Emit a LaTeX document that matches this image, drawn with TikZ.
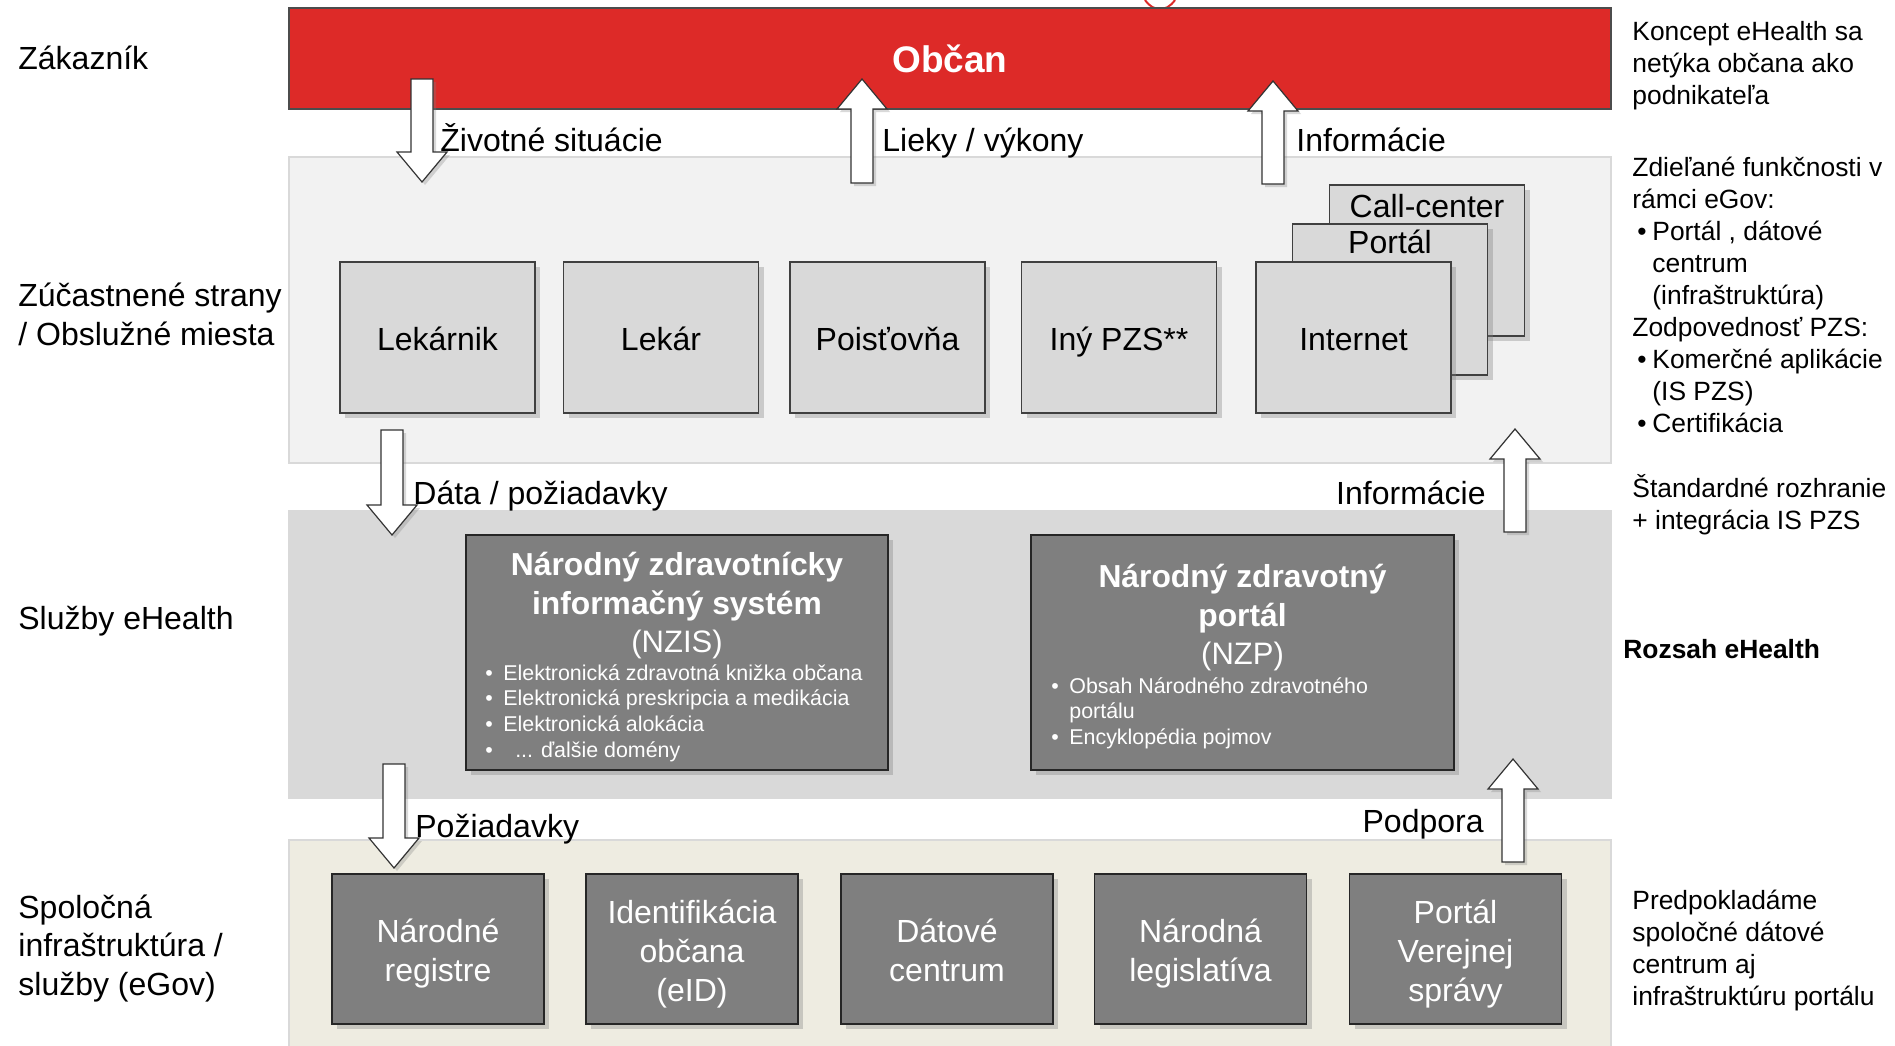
\documentclass[tikz,border=0pt]{standalone}
\usepackage{fontspec}
\setmainfont{Liberation Sans}
\usetikzlibrary{calc,shadows,positioning}

\definecolor{obcanred}{RGB}{221,42,40}
\definecolor{layerone}{RGB}{242,242,242}
\definecolor{layertwo}{RGB}{217,217,217}
\definecolor{layerthree}{RGB}{238,236,225}
\definecolor{boxlight}{RGB}{217,217,217}
\definecolor{boxdark}{RGB}{127,127,127}

\newcommand{\notebul}{\hspace*{2.5pt}\makebox[7.5pt][l]{\textbullet}}
\newcommand{\noteind}{\hspace*{10pt}}
\newcommand{\boxbul}{\makebox[9pt][l]{\textbullet}}
\newcommand{\topstrut}{\rule{0pt}{17pt}}
\newcommand{\botstrut}{\rule[-3.7pt]{0pt}{0pt}}
\newcommand{\blockarrow}[2]{%
  \draw[bigarrow] let \p1=(#1), \p2=(#2), \p3=($(#2)!15pt!(#1)$) in
    (\x1-5.5pt,\y1) -- (\x1-5.5pt,\y3) -- (\x1-12.5pt,\y3) -- (\p2)
    -- (\x1+12.5pt,\y3) -- (\x1+5.5pt,\y3) -- (\x1+5.5pt,\y1) -- cycle;}

\tikzset{
  layerbg/.style={fill=#1, draw=black!15, line width=1pt},
  sidetext/.style={anchor=west, align=left, inner sep=0pt, font=\fontsize{16}{19.4}\selectfont},
  notetext/.style={anchor=west, align=left, inner sep=0pt, font=\fontsize{13.2}{16}\selectfont},
  flowtext/.style={inner sep=0pt, font=\fontsize{16}{19}\selectfont},
  boxtext/.style={flowtext, text height=13pt, text depth=0pt},
  boxshadow/.style={drop shadow={shadow xshift=2.5pt, shadow yshift=-2.5pt, opacity=0.35}},
  lightbox/.style={draw=black!75, fill=boxlight, line width=0.8pt, boxshadow,
    minimum width=97.5pt, minimum height=75.5pt, inner sep=0pt, font=\fontsize{16}{19}\selectfont,
    text height=13pt, text depth=0pt},
  darkbox/.style={draw=black!85, fill=boxdark, line width=0.8pt, boxshadow, inner sep=0pt},
  infrabox/.style={darkbox, minimum width=106pt, minimum height=75pt, text=white, align=center,
    font=\fontsize{16}{19.4}\selectfont},
  bigarrow/.style={draw=black!80, fill=white, line width=0.6pt,
    drop shadow={shadow xshift=1.5pt, shadow yshift=-1.5pt, opacity=0.3}}
}

\begin{document}
\begin{tikzpicture}[x=0.5pt,y=-0.5pt]
  \useasboundingbox (0,0) rectangle (1895,1045);

  \draw[layerbg=layerone] (289,157) rectangle (1611,463);
  \draw[layerbg=layertwo] (289,511) rectangle (1611,798);
  \draw[layerbg=layerthree] (289,840) rectangle (1611,1050);
  \draw[obcanred, line width=1pt] (1145,0) .. controls (1150,7) and (1155,9) .. (1160,9)
    .. controls (1165,9) and (1170,7) .. (1175,0);

  \node[draw=black!70, fill=obcanred, line width=0.8pt, minimum width=661pt, minimum height=50.5pt,
    text=white, font=\bfseries\fontsize{18.5}{22}\selectfont] (obcan) at (950,58.5) {Občan};

  \node[sidetext] (zakaznik) at (18,58) {Zákazník};
  \node[sidetext] (strany) at (18,314.5) {Zúčastnené strany\\/ Obslužné miesta};
  \node[sidetext] (sluzby) at (18,621) {Služby eHealth};
  \node[sidetext] (infra) at (18,948.5) {Spoločná\\infraštruktúra /\\služby (eGov)};

  \node[lightbox] (lekarnik) at (437.5,337.5) {Lekárnik};
  \node[lightbox] (lekar) at (661,337.5) {Lekár};
  \node[lightbox] (poistovna) at (887.5,337.5) {Poisťovňa};
  \node[lightbox] (inypzs) at (1119,337.5) {Iný PZS**};
  \node[lightbox] (callcenter) at (1427,260.5) {};
  \node[boxtext, below=3.2pt of callcenter.north] (callcentertext) {Call-center};
  \node[lightbox] (portal) at (1390,299.5) {};
  \node[boxtext, below=1.9pt of portal.north] (portaltext) {Portál};
  \node[lightbox] (internet) at (1353.5,337.5) {Internet};

  \node[darkbox, minimum width=211pt, minimum height=117.5pt] (nzis) at (677,652.5) {};
  \node[anchor=north, align=center, inner sep=0pt, text=white, font=\bfseries\fontsize{15.9}{19.4}\selectfont]
    (nzistitle) at (677,551.5) {Národný zdravotnícky\\informačný systém\\{\mdseries\fontsize{15.5}{18.5}\selectfont (NZIS)}};
  \node[anchor=north west, align=left, inner sep=0pt, text=white, font=\fontsize{10.7}{12.9}\selectfont]
    (nzislist) at (485,664) {\boxbul Elektronická zdravotná knižka občana\\\boxbul Elektronická preskripcia a medikácia\\\boxbul Elektronická alokácia\\\boxbul\ \ ... ďalšie domény};

  \node[darkbox, minimum width=211.5pt, minimum height=117.5pt] (nzp) at (1242.5,652.5) {};
  \node[anchor=north, align=center, inner sep=0pt, text=white, font=\bfseries\fontsize{15.9}{19.4}\selectfont]
    (nzptitle) at (1242.5,563.5) {Národný zdravotný\\portál\\{\mdseries\fontsize{15.5}{18.5}\selectfont (NZP)}};
  \node[anchor=north west, align=left, inner sep=0pt, text=white, font=\fontsize{10.7}{12.9}\selectfont]
    (nzplist) at (1051,677) {\boxbul Obsah Národného zdravotného\\\hspace*{9pt}portálu\\\boxbul Encyklopédia pojmov};

  \node[infrabox] (registre) at (438,949) {\topstrut Národné\\registre\botstrut};
  \node[infrabox] (eid) at (692,949) {\topstrut Identifikácia\\občana\\(eID)\botstrut};
  \node[infrabox] (datacentrum) at (947,949) {\topstrut Dátové\\centrum\botstrut};
  \node[infrabox] (legislativa) at (1200.5,949) {\topstrut Národná\\legislatíva\botstrut};
  \node[infrabox] (portalvs) at (1455.5,949) {\topstrut Portál\\Verejnej\\správy\botstrut};

  \coordinate (situacieTail) at (422,79);
  \coordinate (situacieTip) at (422,182);
  \coordinate (liekyTail) at (862,183);
  \coordinate (liekyTip) at (862,79);
  \coordinate (infoTail) at (1273,184);
  \coordinate (infoTip) at (1273,81);
  \coordinate (dataTail) at (392,430);
  \coordinate (dataTip) at (392,535);
  \coordinate (info2Tail) at (1515,532);
  \coordinate (info2Tip) at (1515,429);
  \coordinate (poziadavkyTail) at (394,764);
  \coordinate (poziadavkyTip) at (394,868);
  \coordinate (podporaTail) at (1513,862);
  \coordinate (podporaTip) at (1513,759);

  \blockarrow{situacieTail}{situacieTip}
  \blockarrow{liekyTail}{liekyTip}
  \blockarrow{infoTail}{infoTip}
  \blockarrow{dataTail}{dataTip}
  \blockarrow{info2Tail}{info2Tip}
  \blockarrow{poziadavkyTail}{poziadavkyTip}
  \blockarrow{podporaTail}{podporaTip}

  \node[flowtext, anchor=base west] (situacie) at (440,151) {Životné situácie};
  \node[flowtext, anchor=base west] (lieky) at (882,151) {Lieky / výkony};
  \node[flowtext, anchor=base west] (info) at (1296,151) {Informácie};
  \node[flowtext, anchor=base west] (data) at (413,504) {Dáta / požiadavky};
  \node[flowtext, anchor=base east] (info2) at (1486,504) {Informácie};
  \node[flowtext, anchor=base west] (poziadavky) at (415,837) {Požiadavky};
  \node[flowtext, anchor=base east] (podpora) at (1484,832) {Podpora};

  \node[notetext] (koncept) at (1632,65.5) {Koncept eHealth sa\\netýka občana ako\\podnikateľa};
  \node[notetext] (egov) at (1632,295) {Zdieľané funkčnosti v\\rámci eGov:\\\notebul Portál , dátové\\\noteind centrum\\\noteind (infraštruktúra)\\Zodpovednosť PZS:\\\notebul Komerčné aplikácie\\\noteind (IS PZS)\\\notebul Certifikácia};
  \node[notetext] (rozhranie) at (1632,504.5) {Štandardné rozhranie\\+ integrácia IS PZS};
  \node[notetext, font=\bfseries\fontsize{13.2}{16}\selectfont] (rozsah) at (1623,649) {Rozsah eHealth};
  \node[notetext] (predpoklad) at (1632,950.5) {Predpokladáme\\spoločné dátové\\centrum aj\\infraštruktúru portálu};
\end{tikzpicture}
\end{document}
